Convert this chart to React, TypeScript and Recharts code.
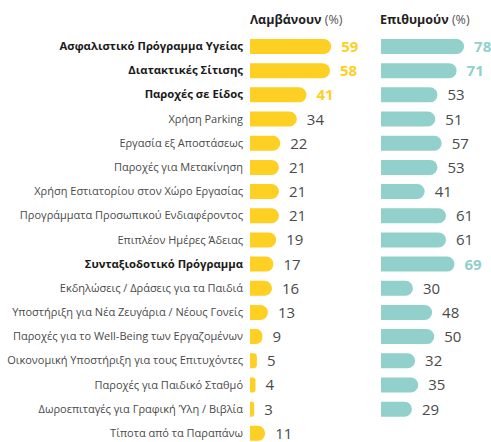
import { BarChart, Bar, XAxis, YAxis, LabelList } from 'recharts';

const categories = [
  'Ασφαλιστικό Πρόγραμμα Υγείας',
  'Διατακτικές Σίτισης',
  'Παροχές σε Είδος',
  'Χρήση Parking',
  'Εργασία εξ Αποστάσεως',
  'Παροχές για Μετακίνηση',
  'Χρήση Εστιατορίου στον Χώρο Εργασίας',
  'Προγράμματα Προσωπικού Ενδιαφέροντος',
  'Επιπλέον Ημέρες Άδειας',
  'Συνταξιοδοτικό Πρόγραμμα',
  'Εκδηλώσεις / Δράσεις για τα Παιδιά',
  'Υποστήριξη για Νέα Ζευγάρια / Νέους Γονείς',
  'Παροχές για το Well-Being των Εργαζομένων',
  'Οικονομική Υποστήριξη για τους Επιτυχόντες',
  'Παροχές για Παιδικό Σταθμό',
  'Δωροεπιταγές για Γραφική Ύλη / Βιβλία',
  'Τίποτα από τα Παραπάνω',
];
const receive = [59, 58, 41, 34, 22, 21, 21, 21, 19, 17, 16, 13, 9, 5, 4, 3, 11];
const desire = [78, 71, 53, 51, 57, 53, 41, 61, 61, 69, 30, 48, 50, 32, 35, 29, null];

const boldCategories = [0, 1, 2, 9];
const topReceive = [0, 1, 2];
const topDesire = [0, 1, 9];

const YELLOW = '#FDD023';
const TEAL = '#91D0CB';
const FONT = "'Open Sans', sans-serif";

const data = categories.map((name, i) => ({ name, receive: receive[i], desire: desire[i] }));

const CHART_H = 445;
const MARGIN_TOP = 34;

function CategoryTick({ x, y, payload, index }: any) {
  const bold = boldCategories.includes(index);
  return (
    <text
      x={x}
      y={y}
      dy={4}
      textAnchor="end"
      fontFamily={FONT}
      fontSize={bold ? 11.3 : 11}
      fontWeight={bold ? 700 : 400}
      fill={bold ? '#1a1a1a' : '#4a4a4a'}
    >
      {payload.value}
    </text>
  );
}

function valueLabel(top: number[], color: string) {
  return ({ x, y, width, height, value, index }: any) => {
    if (value == null) return null;
    const hi = top.includes(index);
    return (
      <text
        x={x + width + 10}
        y={y + height / 2}
        dy={5.5}
        fontFamily={FONT}
        fontSize={15}
        fontWeight={hi ? 700 : 400}
        fill={hi ? color : '#4a4a4a'}
      >
        {value}
      </text>
    );
  };
}

function Header({ left, title }: { left: number; title: string }) {
  return (
    <div
      style={{
        position: 'absolute',
        left,
        top: 11,
        fontFamily: FONT,
        fontSize: 12.5,
        color: '#222',
        whiteSpace: 'nowrap',
      }}
    >
      <span style={{ fontWeight: 700 }}>{title}</span>{' '}
      <span style={{ color: '#555' }}>(%)</span>
    </div>
  );
}

export default function App() {
  return (
    <div
      style={{
        position: 'absolute',
        left: 0,
        top: 0,
        width: 491,
        height: 442,
        overflow: 'hidden',
        background: '#fff',
      }}
    >
      <Header left={250} title="Λαμβάνουν" />
      <Header left={380} title="Επιθυμούν" />
      <div style={{ position: 'absolute', left: 0, top: 0 }}>
        <BarChart
          width={380}
          height={CHART_H}
          data={data}
          layout="vertical"
          margin={{ top: MARGIN_TOP, right: 6, bottom: 0, left: 0 }}
          barCategoryGap={0}
        >
          <XAxis type="number" domain={[0, 90]} hide />
          <YAxis
            type="category"
            dataKey="name"
            width={250}
            axisLine={false}
            tickLine={false}
            tickSize={0}
            tickMargin={7}
            interval={0}
            tick={<CategoryTick />}
          />
          <Bar dataKey="receive" fill={YELLOW} barSize={15} radius={[0, 8, 8, 0]} isAnimationActive={false}>
            <LabelList dataKey="receive" content={valueLabel(topReceive, YELLOW)} />
          </Bar>
        </BarChart>
      </div>
      <div style={{ position: 'absolute', left: 381, top: 0 }}>
        <BarChart
          width={130}
          height={CHART_H}
          data={data}
          layout="vertical"
          margin={{ top: MARGIN_TOP, right: 23.5, bottom: 0, left: 0 }}
          barCategoryGap={0}
        >
          <XAxis type="number" domain={[0, 100]} hide />
          <YAxis type="category" dataKey="name" hide width={0} />
          <Bar dataKey="desire" fill={TEAL} barSize={15} radius={[0, 8, 8, 0]} isAnimationActive={false}>
            <LabelList dataKey="desire" content={valueLabel(topDesire, TEAL)} />
          </Bar>
        </BarChart>
      </div>
    </div>
  );
}
